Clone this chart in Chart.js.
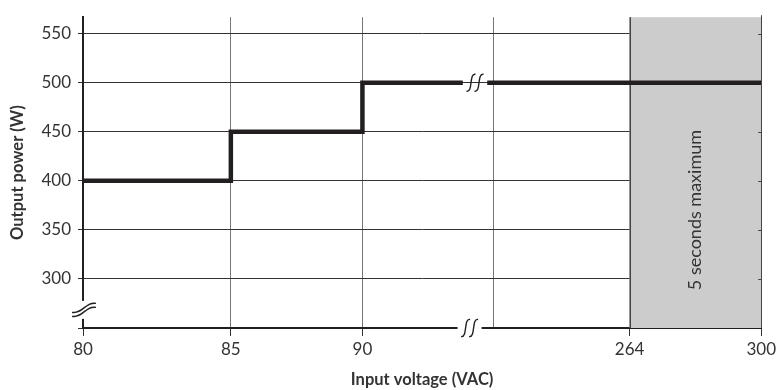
<!DOCTYPE html>
<html lang="en">
<head>
  <meta charset="UTF-8" />
  <title>Output power vs input voltage</title>
  <script src="https://cdn.jsdelivr.net/npm/chart.js"></script>
  <style>
    body {
      margin: 0;
      background: #ffffff;
    }
    .wrap {
      width: 779px;
      height: 390px;
      position: relative;
    }
  </style>
</head>
<body>
  <div class="wrap">
    <canvas id="powerChart"></canvas>
  </div>

  <script>
    // x axis is broken, so each voltage sits at a "slot" position along the axis
    const xLabels = ['80', '85', '90', '', '264', '300'];
    const xSlots = [0, 1.09, 2.06, 3.03, 4.03, 5];
    const yTicks = [300, 350, 400, 450, 500, 550];

    // output power curve (W), null = axis break gap
    const powerSlots = [0, 1.09, 2.06, 2.80, 2.89, 2.98, 5];
    const powerValues = [400, 450, 500, 500, null, 500, 500];

    // shaded region: 264 V .. 300 V
    const shadeFrom = 4.03;
    const shadeTo = 5;
    const shadeLabel = '5 seconds maximum';
    const shadeLabelValue = 370;

    // break positions
    const lineBreakSlot = 2.89;
    const axisBreakSlot = 2.85;
    const yBreakValue = 268;

    const ink = '#231f20';
    const textColor = '#333333';

    function sMark(ctx, x, y, w, h) {
      // integral-like stroke used for the break marks
      ctx.beginPath();
      ctx.moveTo(x - w / 2, y + h / 2);
      ctx.bezierCurveTo(x + w * 0.25, y + h * 0.6, x - w * 0.25, y - h * 0.6, x + w / 2, y - h / 2);
      ctx.stroke();
    }

    function tildeMark(ctx, x, y, w, h) {
      ctx.beginPath();
      ctx.moveTo(x - w / 2, y + h / 2);
      ctx.bezierCurveTo(x - w * 0.05, y + h * 0.7, x + w * 0.05, y - h * 0.7, x + w / 2, y - h / 2);
      ctx.stroke();
    }

    const breaksPlugin = {
      id: 'breaks',
      beforeDatasetsDraw(chart) {
        const { ctx, chartArea, scales } = chart;
        const x0 = scales.x.getPixelForValue(shadeFrom);
        const x1 = scales.x.getPixelForValue(shadeTo);
        ctx.save();
        ctx.fillStyle = '#cccccc';
        ctx.fillRect(x0, chartArea.top, x1 - x0, chartArea.bottom - chartArea.top);

        ctx.strokeStyle = '#444444';
        ctx.lineWidth = 1;
        ctx.beginPath();
        ctx.moveTo(Math.round(x0) + 0.5, chartArea.top);
        ctx.lineTo(Math.round(x0) + 0.5, chartArea.bottom);
        ctx.moveTo(Math.round(x1) + 0.5, chartArea.top - 2);
        ctx.lineTo(Math.round(x1) + 0.5, chartArea.bottom);
        // small inner ticks on the right edge
        yTicks.forEach(v => {
          const y = Math.round(scales.y.getPixelForValue(v)) + 0.5;
          ctx.moveTo(x1 - 3, y);
          ctx.lineTo(x1, y);
        });
        ctx.stroke();

        ctx.translate((x0 + x1) / 2, scales.y.getPixelForValue(shadeLabelValue));
        ctx.rotate(-Math.PI / 2);
        ctx.fillStyle = textColor;
        ctx.font = '18px Lato';
        ctx.textAlign = 'center';
        ctx.textBaseline = 'middle';
        ctx.fillText(shadeLabel, 0, 0);
        ctx.restore();
      },
      afterDatasetsDraw(chart) {
        const { ctx, chartArea, scales } = chart;
        ctx.save();

        // x axis break
        const ax = scales.x.getPixelForValue(axisBreakSlot);
        ctx.fillStyle = '#ffffff';
        ctx.fillRect(ax - 12, chartArea.bottom - 3, 24, 6);
        ctx.strokeStyle = ink;
        ctx.lineWidth = 1.4;
        sMark(ctx, ax - 4, chartArea.bottom, 9, 17);
        sMark(ctx, ax + 4, chartArea.bottom, 9, 17);

        // y axis break
        const by = scales.y.getPixelForValue(yBreakValue);
        ctx.fillRect(chartArea.left - 4, by - 9, 8, 18);
        tildeMark(ctx, chartArea.left + 1, by - 2, 24, 9);
        tildeMark(ctx, chartArea.left + 1, by + 2, 24, 9);

        // line break
        const lx = scales.x.getPixelForValue(lineBreakSlot);
        const ly = scales.y.getPixelForValue(500);
        sMark(ctx, lx - 4, ly, 9, 17);
        sMark(ctx, lx + 4, ly, 9, 17);
        ctx.restore();
      }
    };

    const ctx = document.getElementById('powerChart').getContext('2d');
    const chart = new Chart(ctx, {
      type: 'line',
      data: {
        datasets: [{
          label: 'Output power',
          data: powerSlots.map((s, i) => ({ x: s, y: powerValues[i] })),
          borderColor: ink,
          borderWidth: 4.5,
          borderJoinStyle: 'miter',
          stepped: true,
          spanGaps: false,
          pointRadius: 0,
          fill: false
        }]
      },
      options: {
        responsive: true,
        maintainAspectRatio: false,
        animation: false,
        layout: {
          padding: { top: 14, right: 17, left: 0, bottom: 0 }
        },
        plugins: {
          legend: { display: false },
          tooltip: { enabled: false }
        },
        scales: {
          x: {
            type: 'linear',
            min: 0,
            max: 5,
            afterBuildTicks: scale => {
              scale.ticks = xSlots.map(v => ({ value: v }));
            },
            afterFit: scale => {
              scale.height = 62;
            },
            ticks: {
              autoSkip: false,
              maxRotation: 0,
              color: textColor,
              font: { family: 'Lato', size: 17 },
              padding: 3,
              callback: (value, index) => xLabels[index]
            },
            grid: {
              color: '#777777',
              lineWidth: 1,
              tickLength: 8,
              tickColor: c => (c.tick && xLabels[c.index] === '' ? 'rgba(0,0,0,0)' : '#333333')
            },
            border: { color: ink, width: 2 },
            title: {
              display: true,
              text: 'Input voltage (VAC)',
              color: textColor,
              font: { family: 'Lato', size: 16.5, weight: 'bold' },
              padding: { bottom: 0, top: 0 }
            }
          },
          y: {
            type: 'linear',
            min: 249.5,
            max: 567,
            afterBuildTicks: scale => {
              scale.ticks = [249.5].concat(yTicks).map(v => ({ value: v }));
            },
            afterFit: scale => {
              scale.width = 83;
            },
            ticks: {
              color: textColor,
              font: { family: 'Lato', size: 17 },
              padding: 7,
              callback: value => (value < 300 ? '' : value)
            },
            grid: {
              color: '#333333',
              lineWidth: 1,
              tickLength: 5,
              tickColor: '#333333'
            },
            border: { color: ink, width: 2 },
            title: {
              display: true,
              text: 'Output power (W)',
              color: textColor,
              font: { family: 'Lato', size: 16.5, weight: 'bold' },
              padding: { top: 8, bottom: 0 }
            }
          }
        }
      },
      plugins: [breaksPlugin]
    });
  </script>
</body>
</html>
